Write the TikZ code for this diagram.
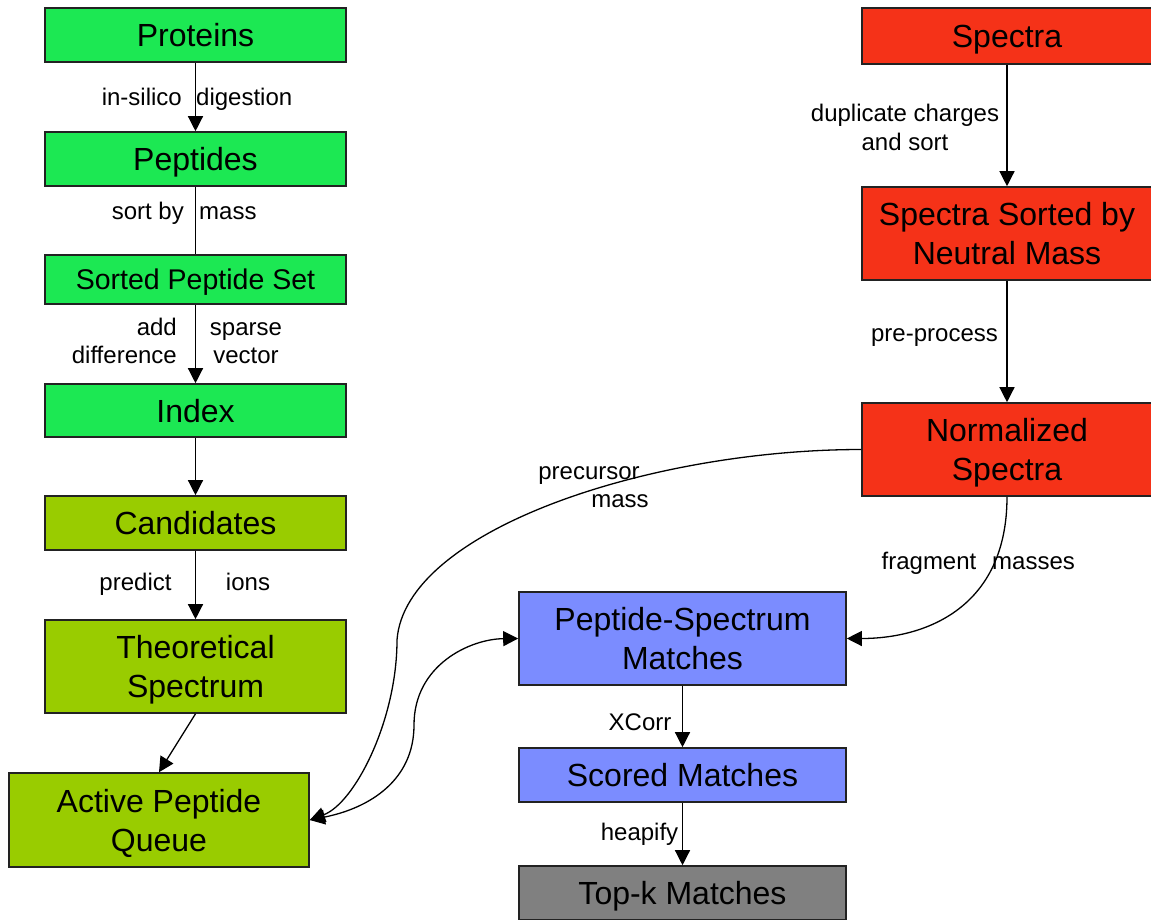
\documentclass[tikz,border=0pt]{standalone}
\usepackage{fontspec}
\setmainfont{Liberation Sans}
\usetikzlibrary{arrows.meta}
\definecolor{grn}{HTML}{1CE853}
\definecolor{olv}{HTML}{99CC00}
\definecolor{rd}{HTML}{F53218}
\definecolor{blu}{HTML}{7B8CFF}
\definecolor{gry}{HTML}{808080}
\definecolor{edge}{HTML}{222222}
\newcommand\twoln[2]{\begin{tabular}[t]{@{}c@{}}#1\\#2\end{tabular}}
\tikzset{
  box/.style={draw=edge, line width=1.6pt, inner sep=0pt,
    font=\fontsize{32}{39}\selectfont, text height=23pt, text depth=0pt},
  dbl/.style={text depth=39pt},
  lbl/.style={inner sep=0pt, font=\fontsize{24}{28}\selectfont},
  conn/.style={line width=1.3pt, draw=black},
  arr/.style={conn, -{Triangle[length=15pt,width=15pt]}},
  darr/.style={conn, {Triangle[length=15pt,width=15pt]}-{Triangle[length=15pt,width=15pt]}},
}
\begin{document}
\begin{tikzpicture}[x=1pt,y=-1pt]
\useasboundingbox (0,0) rectangle (1151,919);
% left column
\node[box, fill=grn, minimum width=301pt, minimum height=54pt] (prot) at (195.5,35) {Proteins};
\node[box, fill=grn, minimum width=301pt, minimum height=54pt] (pep) at (195.5,159) {Peptides};
\node[box, fill=grn, minimum width=301pt, minimum height=49pt, font=\fontsize{28.5}{34}\selectfont, text height=20.4pt] (sps) at (195.5,279.5) {Sorted Peptide Set};
\node[box, fill=grn, minimum width=301pt, minimum height=53pt] (idx) at (195.5,410.5) {Index};
\node[box, fill=olv, minimum width=301pt, minimum height=54pt] (cand) at (195.5,523) {Candidates};
\node[box, dbl, fill=olv, minimum width=301pt, minimum height=93pt] (theo) at (195.5,666.5) {\twoln{Theoretical}{Spectrum}};
\node[box, dbl, fill=olv, minimum width=300pt, minimum height=94pt] (apq) at (159,820) {\twoln{Active Peptide}{Queue}};
% right column
\node[box, fill=rd, minimum width=290pt, minimum height=56pt] (spec) at (1007,36) {Spectra};
\node[box, dbl, fill=rd, minimum width=290pt, minimum height=93pt] (ssort) at (1007,233.5) {\twoln{Spectra Sorted by}{Neutral Mass}};
\node[box, dbl, fill=rd, minimum width=290pt, minimum height=93pt] (norm) at (1007,449.5) {\twoln{Normalized}{Spectra}};
% middle column
\node[box, dbl, fill=blu, minimum width=327pt, minimum height=93pt] (psm) at (682.5,638.5) {\twoln{Peptide-Spectrum}{Matches}};
\node[box, fill=blu, minimum width=327pt, minimum height=54pt] (scored) at (682.5,775) {Scored Matches};
\node[box, fill=gry, minimum width=327pt, minimum height=54pt] (topk) at (682.5,893) {Top-k Matches};
% connectors
\draw[arr] (prot) -- (pep);
\draw[conn] (pep) -- (sps);
\draw[arr] (sps) -- (idx);
\draw[arr] (idx) -- (cand);
\draw[arr] (cand) -- (theo);
\draw[arr] (theo.south) -- (apq.north);
\draw[arr] (spec) -- (ssort);
\draw[arr] (ssort) -- (norm);
\draw[arr] (psm) -- (scored);
\draw[arr] (scored) -- (topk);
\coordinate (pm) at (397,640);
\draw[arr] (norm.west) .. controls (650,449.5) and (405,530) .. (pm)
  .. controls (397,720) and (355,803) .. (apq.east);
\coordinate (dm) at (414,725);
\draw[darr] (apq.east) .. controls (370,808) and (414,780) .. (dm)
  .. controls (414,665) and (470,639) .. (psm.west);
\draw[arr] (norm.south) .. controls +(0,110) and +(80,0) .. (psm.east);
% labels
\node[lbl, anchor=base east] (l1a) at (182,105) {in-silico};
\node[lbl, anchor=base west] (l1b) at (196,105) {digestion};
\node[lbl, anchor=base east] (l2a) at (184,219) {sort by};
\node[lbl, anchor=base west] (l2b) at (199,219) {mass};
\node[lbl, anchor=base east] (l3a) at (177,335) {add};
\node[lbl, anchor=base east] (l3b) at (177,363) {difference};
\node[lbl, anchor=base] (l3c) at (246,335) {sparse};
\node[lbl, anchor=base] (l3d) at (246,363) {vector};
\node[lbl, anchor=base] (l4a) at (135.5,590) {predict};
\node[lbl, anchor=base] (l4b) at (248,590) {ions};
\node[lbl, anchor=base] (l5a) at (905,121) {duplicate charges};
\node[lbl, anchor=base] (l5b) at (905,150) {and sort};
\node[lbl, anchor=base] (l6) at (934.5,341) {pre-process};
\node[lbl, anchor=base] (l7a) at (589,479) {precursor};
\node[lbl, anchor=base] (l7b) at (620,507) {mass};
\node[lbl, anchor=base] (l8a) at (929,569) {fragment};
\node[lbl, anchor=base] (l8b) at (1033.5,569) {masses};
\node[lbl, anchor=base] (l9) at (640,730) {XCorr};
\node[lbl, anchor=base] (l10) at (639.5,840) {heapify};
\end{tikzpicture}
\end{document}
